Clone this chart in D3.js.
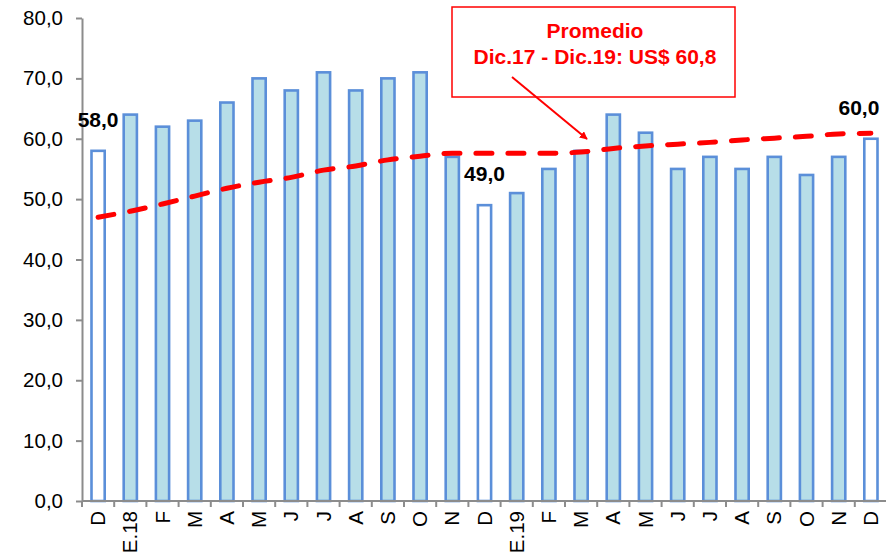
<!DOCTYPE html>
<html>
<head>
<meta charset="utf-8">
<script src="https://cdn.jsdelivr.net/npm/d3@7"></script>
<style>
  html, body { margin: 0; padding: 0; background: #fff; }
  svg { display: block; font-family: Arial, "Liberation Sans", sans-serif; }
</style>
</head>
<body>
<svg id="chart" width="886" height="555"></svg>
<script>
// ---- data ----
const categories = ["D","E.18","F","M","A","M","J","J","A","S","O","N","D","E.19","F","M","A","M","J","J","A","S","O","N","D"];
const values = [58,64,62,63,66,70,68,71,68,70,71,57,49,51,55,58,64,61,55,57,55,57,54,57,60];
const highlighted = [0,12,24];           // months drawn as white bars with labels
const trend = [47.0,48.0,49.2,50.5,51.8,52.8,53.6,54.8,55.5,56.5,57.1,57.6,57.6,57.6,57.6,57.8,58.4,58.8,59.1,59.4,59.8,60.1,60.4,60.8,60.9];
const yTicks = [0,10,20,30,40,50,60,70,80];
const noteLines = ["Promedio","Dic.17 - Dic.19: US$ 60,8"];

// ---- layout ----
const svg = d3.select("#chart");
const mLeft = 82, mRight = 887, mTop = 18, mBottom = 501;
const idx = d3.range(categories.length);
const x = d3.scaleBand().domain(idx).range([mLeft, mRight]).padding(0);
const y = d3.scaleLinear().domain([0, 80]).range([mBottom, mTop]);
const fmt = v => d3.format(".1f")(v).replace(".", ",");
const axisColor = "#8c8c8c";

// y axis
const yAxis = svg.append("g").attr("transform", `translate(${mLeft},0)`)
  .call(d3.axisLeft(y).tickValues(yTicks).tickFormat(fmt).tickSize(6).tickSizeOuter(0).tickPadding(13));
yAxis.select(".domain").attr("stroke", axisColor).attr("stroke-width", 2);
yAxis.selectAll(".tick line").attr("stroke", axisColor).attr("stroke-width", 2);
yAxis.selectAll(".tick text").attr("font-size", 20.5).attr("fill", "#000")
  .attr("font-family", "Arial, 'Liberation Sans', sans-serif");

// bars
const bw = x.bandwidth() * 0.41;
svg.append("g").selectAll("rect").data(idx).join("rect")
  .attr("x", i => x(i) + (x.bandwidth() - bw) / 2)
  .attr("y", i => y(values[i]))
  .attr("width", bw)
  .attr("height", i => y(0) - y(values[i]))
  .attr("fill", i => highlighted.includes(i) ? "#ffffff" : "#b7dee8")
  .attr("stroke", "#5b8fd9")
  .attr("stroke-width", 2.6);

// x axis
const xAxis = svg.append("g").attr("transform", `translate(0,${mBottom})`);
xAxis.append("line").attr("x1", mLeft).attr("x2", 886).attr("y1", 0).attr("y2", 0)
  .attr("stroke", axisColor).attr("stroke-width", 2);
xAxis.selectAll("line.tk").data(idx.concat([categories.length])).join("line").attr("class", "tk")
  .attr("x1", i => i < categories.length ? x(i) : mRight)
  .attr("x2", i => i < categories.length ? x(i) : mRight)
  .attr("y1", 0).attr("y2", 6)
  .attr("stroke", axisColor).attr("stroke-width", 2);
xAxis.selectAll("text").data(idx).join("text")
  .attr("transform", i => `translate(${x(i) + x.bandwidth() / 2},10) rotate(-90)`)
  .attr("text-anchor", "end")
  .attr("dy", "0.35em")
  .attr("font-size", 20.5)
  .attr("fill", "#000")
  .text(i => categories[i]);

// trend line
const line = d3.line().x(i => x(i) + x.bandwidth() / 2).y(i => y(trend[i])).curve(d3.curveMonotoneX);
svg.append("path").datum(idx).attr("d", line)
  .attr("fill", "none").attr("stroke", "#ff0000").attr("stroke-width", 5)
  .attr("stroke-dasharray", "16 16").attr("stroke-linecap", "round");

// data labels
svg.append("g").selectAll("text").data(highlighted).join("text")
  .attr("x", i => x(i) + x.bandwidth() / 2 - (i === categories.length - 1 ? 12 : 0))
  .attr("y", i => y(values[i]) - 24)
  .attr("text-anchor", "middle")
  .attr("font-size", 21).attr("font-weight", "bold").attr("fill", "#000")
  .text(i => fmt(values[i]));

// annotation box
const note = svg.append("g");
note.append("rect").attr("x", 452).attr("y", 7).attr("width", 283).attr("height", 90)
  .attr("fill", "#fff").attr("stroke", "#ff0000").attr("stroke-width", 1.5);
note.selectAll("text").data(noteLines).join("text")
  .attr("x", 595).attr("y", (d, i) => 38 + i * 26)
  .attr("text-anchor", "middle").attr("font-size", 21).attr("font-weight", "bold")
  .attr("fill", "#ff0000").text(d => d);

// arrow
svg.append("defs").append("marker").attr("id", "arr")
  .attr("viewBox", "0 0 10 10").attr("refX", 9).attr("refY", 5)
  .attr("markerWidth", 8).attr("markerHeight", 8).attr("markerUnits", "userSpaceOnUse")
  .attr("orient", "auto")
  .append("path").attr("d", "M0,0 L10,5 L0,10 Z").attr("fill", "#ff0000");
svg.append("line").attr("x1", 512).attr("y1", 77).attr("x2", 587).attr("y2", 139)
  .attr("stroke", "#ff0000").attr("stroke-width", 2).attr("marker-end", "url(#arr)");
</script>
</body>
</html>
